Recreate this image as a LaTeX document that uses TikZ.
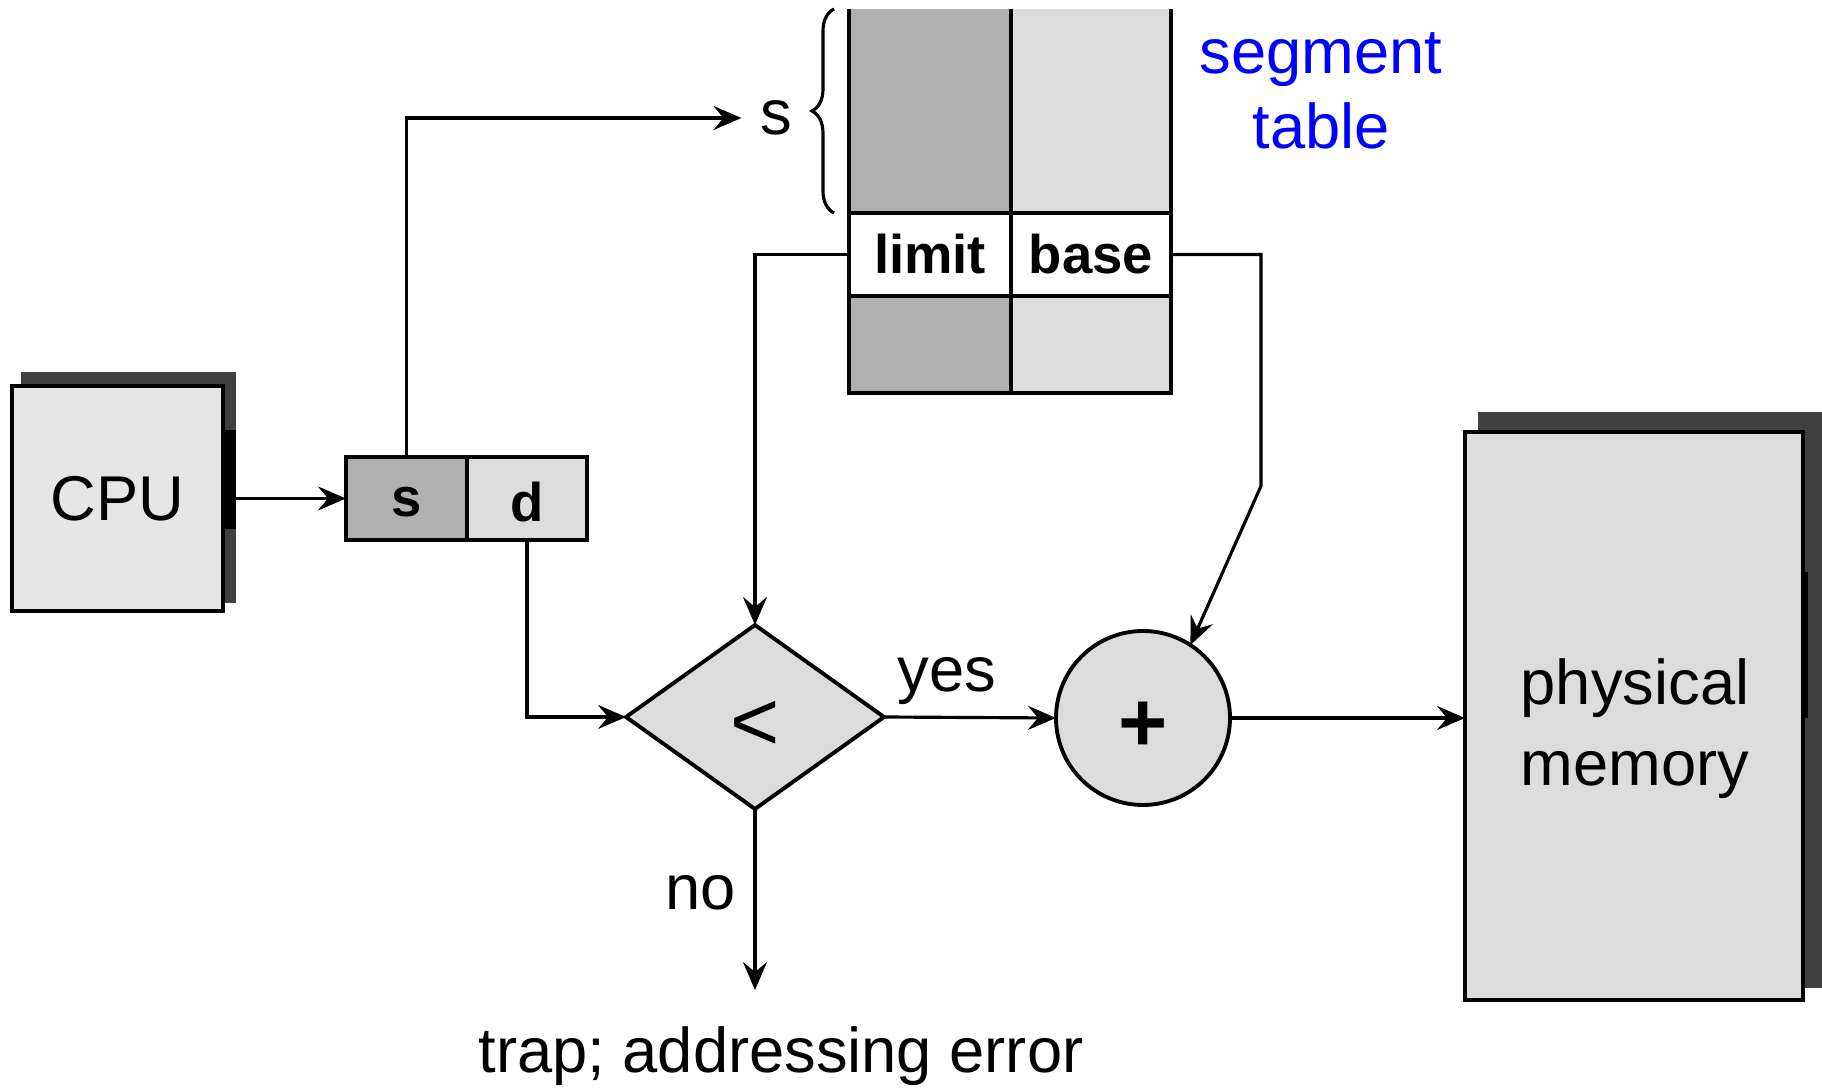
\documentclass[tikz,border=0pt]{standalone}
\usepackage{fontspec}
\setmainfont{Liberation Sans}
\usetikzlibrary{arrows.meta,positioning,shapes.geometric,decorations.pathreplacing,calc}
\definecolor{segInk}{HTML}{000000}
\definecolor{segShadow}{HTML}{404040}
\definecolor{segLightFill}{HTML}{E6E6E6}
\definecolor{segPaleFill}{HTML}{DCDCDC}
\definecolor{segDarkFill}{HTML}{B0B0B0}
\definecolor{segBlue}{HTML}{0000FF}
\tikzset{
  seg/base/.style={draw=segInk, line width=1.1pt, outer sep=0pt, inner sep=0pt,
    align=center, font=\fontsize{18}{21.5}\selectfont},
  seg/unit/.style={seg/base, fill=segPaleFill},
  seg/cell/.style={seg/base, font=\fontsize{15.5}{18}\selectfont\bfseries},
  seg/fillonly/.style={outer sep=0pt, inner sep=0pt},
  seg/shadow/.style={fill=segShadow, outer sep=0pt, inner sep=0pt},
  seg/label/.style={font=\fontsize{18}{21.5}\selectfont, inner sep=0pt,
    align=center},
  seg/arrow/.style={-{Stealth[length=2.8mm,width=2.4mm,inset=1mm]},
    draw=segInk, line width=0.9pt},
  seg/brace/.style={decorate, decoration={brace, amplitude=2.2mm},
    draw=segInk, line width=0.9pt},
}
% lowers a glyph without changing the box the node is centred on
\newcommand{\segdrop}[1]{\raisebox{-0.9mm}[\height][\depth]{#1}}

\begin{document}
\begin{tikzpicture}[x=0.1mm, y=-0.1mm,
    unit/.style={seg/unit},
    cell/.style={seg/cell},
    arrow/.style={seg/arrow},
    lbl/.style={seg/label},
]
\useasboundingbox (0,0) rectangle (1822,1088);

% CPU with its shadow
\node[seg/shadow, minimum width=21.5mm, minimum height=23.1mm] (cpuShadow) at (128.5,487.5) {};
\node[seg/fillonly, fill=black, minimum width=1.3mm, minimum height=9.9mm] (cpuStrip) at (229.5,479.5) {};
\node[seg/base, fill=segLightFill, minimum width=21.1mm, minimum height=22.5mm] (cpu) at (117.5,498.5) {CPU};

% logical address
\node[cell, fill=segDarkFill, minimum width=12.1mm, minimum height=8.3mm] (sCell) at (406.5,498.5) {\raisebox{-0.4mm}[\height][\depth]{s}};
\node[cell, fill=segPaleFill, minimum width=12.0mm, minimum height=8.3mm, right=0pt of sCell] (dCell) {\raisebox{-0.4mm}[\height][\depth]{d}};

% segment table
\node[seg/fillonly, fill=segDarkFill, minimum width=16.2mm, minimum height=20.4mm] (topL) at (930,111) {};
\node[seg/fillonly, fill=segPaleFill, minimum width=16.0mm, minimum height=20.4mm, right=0pt of topL] (topR) {};
\node[cell, fill=white, minimum width=16.2mm, minimum height=8.3mm, below=0pt of topL] (limitCell) {limit};
\node[cell, fill=white, minimum width=16.0mm, minimum height=8.3mm, right=0pt of limitCell] (baseCell) {base};
\node[cell, fill=segDarkFill, minimum width=16.2mm, minimum height=9.7mm, below=0pt of limitCell] (lowL) {};
\node[cell, fill=segPaleFill, minimum width=16.0mm, minimum height=9.7mm, right=0pt of lowL] (lowR) {};
\draw[seg/base] (topL.north west) -- (topL.south west);
\draw[seg/base] (topL.north east) -- (topL.south east);
\draw[seg/base] (topR.north east) -- (topR.south east);
\draw[seg/brace] ([xshift=-1.5mm]topL.south west) -- ([xshift=-1.5mm]topL.north west);
\node[lbl] (sLbl) at (776,118) {s};
\node[lbl, text=segBlue] (tblTitle) at (1321,91) {segment\\table};

% compare and add
\node[unit, diamond, minimum width=25.8mm, minimum height=18.4mm, font=\fontsize{24}{26}\selectfont] (cmp) at (755,717) {\segdrop{<}};
\node[unit, circle, minimum size=17.4mm, font=\fontsize{24}{26}\selectfont\bfseries] (add) at (1143,718) {\segdrop{+}};

% physical memory with its shadow
\node[seg/shadow, minimum width=34.4mm, minimum height=57.6mm] (memShadow) at (1650,700) {};
\node[seg/fillonly, fill=black, minimum width=0.5mm, minimum height=14.6mm] (memStrip) at (1805.5,645) {};
\node[unit, minimum width=33.8mm, minimum height=56.8mm] (mem) at (1634,716) {};
\node[lbl, font=\fontsize{18}{23}\selectfont] (memLbl) at (1635,729) {physical\\memory};

% connectors
\draw[arrow] (cpuShadow.east |- sCell.west) -- (sCell.west);
\draw[arrow] (sCell.north) |- ([xshift=-1.8mm]sLbl.west);
\draw[arrow] (limitCell.west) -| (cmp.north);
\coordinate (baseBend) at (1261,486);
\draw[arrow] (baseCell.east) -| (baseBend) -- (add.57);
\draw[arrow] (dCell.south) |- (cmp.west);
\draw[arrow] (cmp.east) -- (add.west);
\node[lbl] (yesLbl) at (947,681) {yes};
\draw[arrow] (add.east) -- (add.east -| mem.west);
\coordinate (trapTip) at (755,990);
\draw[arrow] (cmp.south) -- (trapTip);
\node[lbl] (noLbl) at (701,893) {no};
\node[lbl] (trap) at (781,1056) {trap; addressing error};
\end{tikzpicture}
\end{document}
